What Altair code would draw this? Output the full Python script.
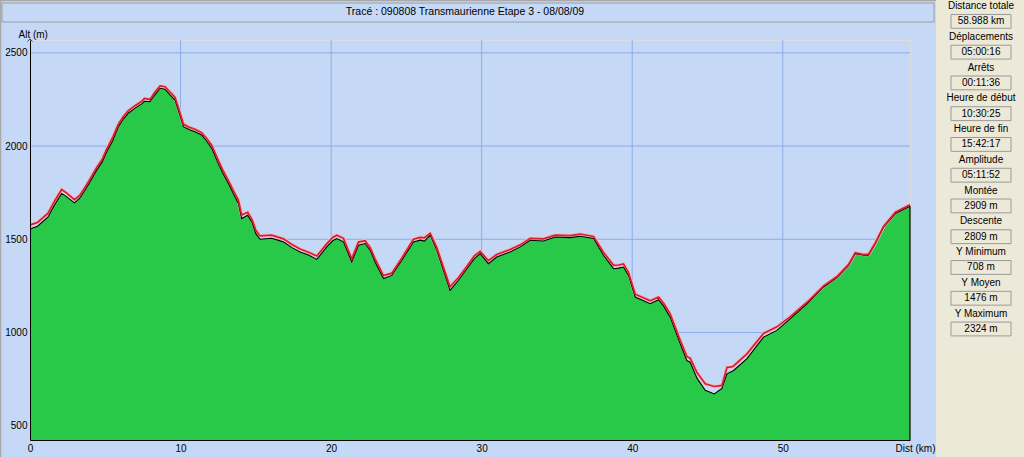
import altair as alt
import pandas as pd

# ---- data ----
dist_km = [0.0, 0.5, 1.2, 1.6, 2.1, 2.4, 2.95, 3.3, 3.65, 4.0,
           4.43, 4.8, 5.1, 5.5, 5.87, 6.2, 6.53, 7.0, 7.42, 7.6,
           7.97, 8.3, 8.64, 8.97, 9.3, 9.63, 9.9, 10.19, 10.6, 10.96,
           11.4, 11.7, 12.07, 12.5, 12.8, 13.18, 13.5, 13.84, 14.06, 14.46,
           14.75, 15.0, 15.28, 16.05, 16.83, 17.4, 17.94, 18.5, 19.05, 19.71,
           20.1, 20.38, 20.82, 21.37, 21.82, 22.26, 22.6, 22.92, 23.48, 24.03,
           24.7, 25.47, 25.91, 26.2, 26.58, 27.02, 27.46, 27.9, 28.46, 29.02,
           29.5, 29.9, 30.45, 31.0, 31.89, 32.56, 33.22, 34.1, 34.88, 35.88,
           36.54, 37.43, 38.09, 38.76, 39.1, 39.42, 39.75, 40.2, 41.2, 41.75,
           42.1, 42.52, 43.19, 43.63, 43.85, 44.3, 44.85, 45.45, 45.96, 46.29,
           46.6, 46.73, 47.62, 48.72, 49.61, 50.5, 51.61, 52.71, 53.6, 54.37,
           54.82, 55.37, 55.7, 56.15, 56.7, 57.48, 58.45]

alt_ground = [1555, 1570, 1620, 1680, 1746, 1730, 1695, 1720, 1763, 1810,
              1871, 1915, 1969, 2030, 2104, 2145, 2176, 2205, 2226, 2240,
              2238, 2275, 2310, 2305, 2275, 2247, 2180, 2104, 2088, 2077,
              2059, 2030, 1988, 1907, 1855, 1799, 1745, 1692, 1611, 1629,
              1590, 1530, 1500, 1505, 1486, 1455, 1432, 1415, 1392, 1459,
              1492, 1504, 1486, 1378, 1468, 1477, 1440, 1378, 1289, 1306,
              1387, 1486, 1495, 1490, 1522, 1441, 1333, 1226, 1280, 1342,
              1395, 1423, 1369, 1405, 1432, 1459, 1495, 1491, 1512, 1509,
              1516, 1504, 1414, 1342, 1345, 1351, 1306, 1190, 1154, 1176,
              1140, 1082, 939, 849, 840, 755, 690, 670, 700, 778,
              790, 796, 860, 975, 1011, 1074, 1154, 1244, 1294, 1360,
              1423, 1414, 1414, 1477, 1566, 1638, 1677]

alt_track = [1577, 1590, 1640, 1700, 1767, 1750, 1712, 1735, 1778, 1825,
             1885, 1930, 1985, 2048, 2118, 2158, 2190, 2218, 2240, 2255,
             2250, 2290, 2323, 2318, 2290, 2262, 2195, 2118, 2100, 2090,
             2072, 2045, 2005, 1925, 1872, 1815, 1762, 1710, 1630, 1645,
             1605, 1548, 1518, 1522, 1502, 1472, 1448, 1430, 1410, 1475,
             1510, 1522, 1505, 1395, 1485, 1492, 1455, 1395, 1305, 1318,
             1400, 1500, 1510, 1508, 1532, 1455, 1350, 1245, 1295, 1355,
             1410, 1435, 1385, 1418, 1445, 1470, 1505, 1502, 1522, 1520,
             1528, 1515, 1430, 1360, 1362, 1368, 1322, 1205, 1170, 1190,
             1155, 1100, 958, 870, 862, 785, 725, 710, 716, 812,
             815, 820, 885, 995, 1030, 1085, 1162, 1250, 1300, 1365,
             1428, 1418, 1420, 1482, 1570, 1645, 1685]

stat_labels = ["Distance totale", "Déplacements", "Arrêts", "Heure de début",
               "Heure de fin", "Amplitude", "Montée", "Descente",
               "Y Minimum", "Y Moyen", "Y Maximum"]
stat_values = ["58.988 km", "05:00:16", "00:11:36", "10:30:25", "15:42:17",
               "05:11:52", "2909 m", "2809 m", "708 m", "1476 m", "2324 m"]

x_ticks = [0, 10, 20, 30, 40, 50]
y_ticks = [500, 1000, 1500, 2000, 2500]
title_text = "Tracé : 090808 Transmaurienne Etape 3 - 08/08/09"

# ---- styling ----
BG = "#C5D9F6"
GRID = "#8AACEA"
GREEN = "#28C848"
RED = "#D81E2A"
PANEL = "#ECE9D8"
FONT = "Liberation Sans"
W, H = 880, 400
X_DOMAIN = [0, 58.45]
Y_DOMAIN = [423, 2569]

profile = pd.DataFrame({"d": dist_km, "g": alt_ground, "t": alt_track})
last = profile.tail(1)
one = pd.DataFrame({"a": [0]})

xscale = alt.Scale(domain=X_DOMAIN, nice=False, zero=False)
yscale = alt.Scale(domain=Y_DOMAIN, nice=False, zero=False)
xaxis = alt.Axis(values=x_ticks, format="d", grid=False, ticks=False, tickSize=0,
                 domainColor="black", domainWidth=1, labelFlush=False,
                 labelPadding=3, labelFontSize=10, labelColor="black",
                 labelFont=FONT, title="Dist (km)", titleFont=FONT,
                 titleFontSize=10, titleFontWeight="normal", titleColor="black",
                 titleX=865, titleY=8, titleAlign="left", titleBaseline="middle",
                 zindex=1)
yaxis = alt.Axis(values=y_ticks, format="d", grid=False, ticks=False, tickSize=0,
                 domainColor="black", domainWidth=1, labelFlush=False,
                 labelPadding=3, labelFontSize=10, labelColor="black",
                 labelFont=FONT, title="Alt (m)", titleFont=FONT,
                 titleFontSize=10, titleFontWeight="normal", titleColor="black",
                 titleAngle=0, titleX=-12, titleY=-6, titleAlign="left",
                 titleBaseline="middle", zindex=1)


def X(field):
    return alt.X(field, type="quantitative", scale=xscale, axis=xaxis)


def Y(field):
    return alt.Y(field, type="quantitative", scale=yscale, axis=yaxis)


# decoration: right panel, title bar, frame
panel_bg = alt.Chart(one).mark_rect(color=PANEL).encode(
    x=alt.value(906), x2=alt.value(994), y=alt.value(-40), y2=alt.value(417))
title_bar = alt.Chart(one).mark_rect(fill=BG, stroke="#9C9C9C", strokeWidth=1).encode(
    x=alt.value(-28), x2=alt.value(904), y=alt.value(-37), y2=alt.value(-18))
frame_left = alt.Chart(one).mark_rule(color="#A8A8A8", strokeWidth=1.5).encode(
    x=alt.value(-29.5), y=alt.value(-40), y2=alt.value(417))
frame_top = alt.Chart(one).mark_rule(color="#A8A8A8", strokeWidth=1.5).encode(
    x=alt.value(-30), x2=alt.value(906), y=alt.value(-39.5))
title = alt.Chart(pd.DataFrame({"s": [title_text]})).mark_text(
    font=FONT, fontSize=10.5, color="black", align="center", baseline="middle").encode(
    x=alt.value(435), y=alt.value(-28), text="s:N")

# grid
vgrid = alt.Chart(pd.DataFrame({"d": x_ticks[1:]})).mark_rule(
    color=GRID, strokeWidth=1).encode(x=X("d"), y=alt.value(0), y2=alt.value(H))
hgrid = alt.Chart(pd.DataFrame({"v": y_ticks})).mark_rule(
    color=GRID, strokeWidth=1).encode(y=Y("v"), x=alt.value(0), x2=alt.value(W))

base = alt.Chart(profile)
area = base.mark_area(color=GREEN, opacity=1, interpolate="linear").encode(
    x=X("d"), y=Y("g"), y2=alt.datum(Y_DOMAIN[0]))
ground_line = base.mark_line(color="black", strokeWidth=1.1).encode(
    x=X("d"), y=Y("g"))
track_halo = base.mark_line(color="#F4BAC4", strokeWidth=3.6).encode(
    x=X("d"), y=Y("t"))
track_line = base.mark_line(color=RED, strokeWidth=1.7).encode(
    x=X("d"), y=Y("t"))
end_edge = alt.Chart(last).mark_rule(color="black", strokeWidth=1.2).encode(
    x=X("d"), y=Y("g"), y2=alt.datum(Y_DOMAIN[0]))
arrow = alt.Chart(one).mark_point(shape="M-1,1L0,0L1,1", size=25, filled=False,
                                  color="black", strokeWidth=1).encode(
    x=alt.value(0), y=alt.value(-1))

main = alt.layer(panel_bg, frame_left, frame_top, title_bar, title,
                 vgrid, hgrid, area, track_halo, ground_line, track_line,
                 end_edge, arrow)

# stats panel
rows = []
for i, (lab, val) in enumerate(zip(stat_labels, stat_values)):
    rows.append({"k": 2 * i, "s": lab, "box": 0})
    rows.append({"k": 2 * i + 1, "s": val, "box": 1})
stats = pd.DataFrame(rows)
sscale = alt.Scale(domain=[0, 21], range=[-34, 289], nice=False, zero=False)

boxes = alt.Chart(stats).transform_filter("datum.box == 1").transform_calculate(
    top="datum.k - 0.45", bot="datum.k + 0.45").mark_rect(
    fill=PANEL, stroke="#9A9A9A", strokeWidth=1).encode(
    x=alt.value(921), x2=alt.value(981),
    y=alt.Y("top:Q", scale=sscale, axis=None), y2="bot:Q")
stat_text = alt.Chart(stats).mark_text(font=FONT, fontSize=10, color="black",
                                       align="center", baseline="middle").encode(
    x=alt.value(951), y=alt.Y("k:Q", scale=sscale, axis=None), text="s:N")
side = alt.layer(boxes, stat_text)

chart = alt.layer(main, side).resolve_scale(y="independent").properties(
    width=W, height=H,
    autosize=alt.AutoSizeParams(type="none"),
    padding={"left": 30, "top": 40, "right": 114, "bottom": 17},
    background=BG,
).configure_view(strokeWidth=0).configure(font=FONT)

chart.save("out.html", embed_options={"renderer": "svg", "actions": False})
